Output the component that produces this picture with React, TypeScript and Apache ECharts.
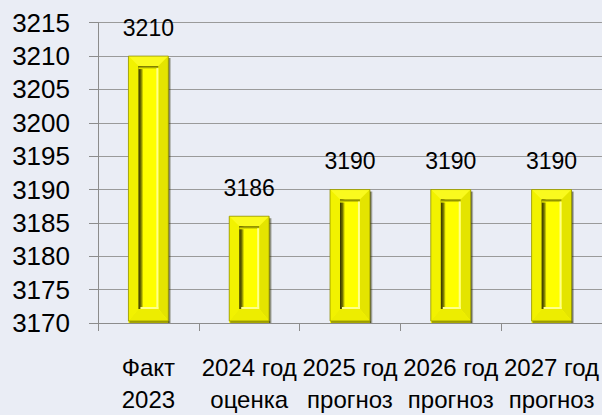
import React, { useEffect, useRef } from "react";
import * as echarts from "echarts";

const categories = ["Факт\n2023", "2024 год\nоценка", "2025 год\nпрогноз", "2026 год\nпрогноз", "2027 год\nпрогноз"];
const values = [3210, 3186, 3190, 3190, 3190];
const yMin = 3170;
const yMax = 3215;
const yStep = 5;

const FONT = "'Liberation Sans', Arial, sans-serif";

export default function App() {
  const ref = useRef<HTMLDivElement>(null);
  useEffect(() => {
    if (!ref.current) return;
    const chart = echarts.init(ref.current, null, { renderer: "svg" });
    const renderItem = (params: any, api: any) => {
      const idx = api.value(0);
      const val = api.value(1);
      const top = api.coord([idx, val]);
      const base = api.coord([idx, yMin]);
      const band = api.size([1, 0])[0];
      const w = band * 0.396;
      const x0 = top[0] - w / 2;
      const x1 = x0 + w;
      const y0 = top[1];
      const y1 = base[1] - 2;
      const fs = 10;
      const xi0 = x0 + fs;
      const xi1 = x1 - fs;
      const yi0 = y0 + fs;
      const yi1 = y1 - 12;
      return {
        type: "group",
        children: [
          {
            type: "rect",
            shape: { x: x1, y: y0 + 2, width: 3, height: y1 - y0 },
            style: {
              fill: new echarts.graphic.LinearGradient(0, 0, 1, 0, [
                { offset: 0, color: "rgba(40,40,0,0.85)" },
                { offset: 1, color: "rgba(40,40,0,0)" },
              ]),
            },
          },
          {
            type: "rect",
            shape: { x: x0 + 1, y: y1, width: w, height: 2 },
            style: { fill: "rgba(80,80,0,0.5)" },
          },
          { type: "polygon", shape: { points: [[x0, y0], [x1, y0], [xi1, yi0], [xi0, yi0]] }, style: { fill: "#FAFA1E" } },
          { type: "polygon", shape: { points: [[x0, y0], [xi0, yi0], [xi0, yi1], [x0, y1]] }, style: { fill: "#F2F200" } },
          { type: "polygon", shape: { points: [[x1, y0], [x1, y1], [xi1, yi1], [xi1, yi0]] }, style: { fill: "#E4E400" } },
          { type: "polygon", shape: { points: [[x0, y1], [xi0, yi1], [xi1, yi1], [x1, y1]] }, style: { fill: "#EDED00" } },
          { type: "rect", shape: { x: x0, y: y0, width: w, height: y1 - y0 }, style: { fill: "none", stroke: "rgba(140,140,0,0.75)", lineWidth: 1 } },
          { type: "rect", shape: { x: xi0, y: yi0, width: xi1 - xi0, height: yi1 - yi0 }, style: { fill: "#FFFF00" } },
          {
            type: "rect",
            shape: { x: xi0, y: yi0, width: 5, height: yi1 - yi0 },
            style: {
              fill: new echarts.graphic.LinearGradient(0, 0, 1, 0, [
                { offset: 0, color: "#333300" },
                { offset: 0.5, color: "#707000" },
                { offset: 1, color: "#FFFF00" },
              ]),
            },
          },
          {
            type: "rect",
            shape: { x: xi0, y: yi0, width: xi1 - xi0, height: 3 },
            style: {
              fill: new echarts.graphic.LinearGradient(0, 0, 0, 1, [
                { offset: 0, color: "#606000" },
                { offset: 1, color: "#FFFF00" },
              ]),
            },
          },
          { type: "rect", shape: { x: xi1 - 2, y: yi0 + 2, width: 2, height: yi1 - yi0 - 2 }, style: { fill: "#FFFF8C" } },
          { type: "rect", shape: { x: xi0 + 2, y: yi1 - 2, width: xi1 - xi0 - 2, height: 2 }, style: { fill: "#FFFF8C" } },
        ],
      };
    };
    chart.setOption({
      animation: false,
      backgroundColor: "#EAEDF5",
      grid: { left: 98, right: -1, top: 22.7, bottom: 85, containLabel: false },
      xAxis: {
        type: "category",
        data: categories,
        axisLine: { show: true, lineStyle: { color: "#8C8C8C", width: 1 } },
        axisTick: { show: true, length: 8, lineStyle: { color: "#8C8C8C" } },
        axisLabel: { color: "#000", fontSize: 24, fontFamily: FONT, lineHeight: 32, margin: 28, interval: 0 },
      },
      yAxis: {
        type: "value",
        min: yMin,
        max: yMax,
        interval: yStep,
        axisLine: { show: true, lineStyle: { color: "#8C8C8C", width: 1 } },
        axisTick: { show: true, length: 9, lineStyle: { color: "#8C8C8C" } },
        axisLabel: { color: "#000", fontSize: 26, fontFamily: FONT, margin: 28, formatter: (v: number) => String(v) },
        splitLine: { show: true, lineStyle: { color: "#9A9A9A", width: 1 } },
      },
      series: [
        {
          type: "bar",
          data: values,
          barWidth: "39.6%",
          itemStyle: { color: "#FFFF00" },
          label: { show: true, position: "top", distance: 17, color: "#000", fontSize: 23, fontFamily: FONT },
          z: 2,
        },
        {
          type: "custom",
          data: values.map((v, i) => [i, v]),
          encode: { x: 0, y: 1 },
          renderItem,
          z: 3,
          silent: true,
        },
      ],
    });
    return () => chart.dispose();
  }, []);
  return <div ref={ref} style={{ position: "fixed", left: 0, top: 0, width: 602, height: 415 }} />;
}
